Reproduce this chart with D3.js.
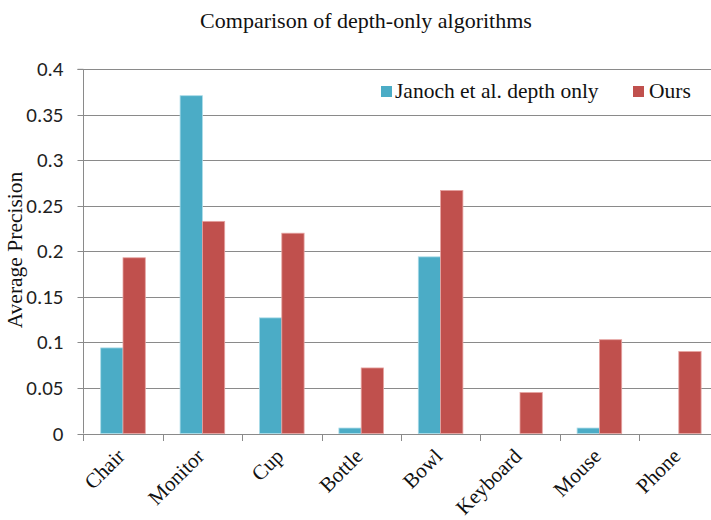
<!DOCTYPE html>
<html>
<head>
<meta charset="utf-8">
<script src="https://cdn.jsdelivr.net/npm/d3@7"></script>
<style>
  html, body { margin: 0; padding: 0; background: #fff; }
  svg { display: block; }
</style>
</head>
<body>
<svg id="chart" width="711" height="520"></svg>
<script>
const categories = ["Chair", "Monitor", "Cup", "Bottle", "Bowl", "Keyboard", "Mouse", "Phone"];
const seriesNames = ["Janoch et al. depth only", "Ours"];
const janochValues = [0.094, 0.371, 0.127, 0.006, 0.194, 0, 0.006, 0];
const oursValues = [0.193, 0.233, 0.220, 0.072, 0.267, 0.045, 0.103, 0.090];
const yTickValues = [0, 0.05, 0.1, 0.15, 0.2, 0.25, 0.3, 0.35, 0.4];
const yTickLabels = ["0", "0.05", "0.1", "0.15", "0.2", "0.25", "0.3", "0.35", "0.4"];
const colors = ["#4BACC6", "#C0504D"];
const strokeColors = ["#a9dbe8", "#e6a3a1"];

const svg = d3.select("#chart");
const serif = "'Liberation Serif', 'Times New Roman', serif";
const sans = "Carlito, Lato, 'Liberation Sans', sans-serif";

const left = 83.3, bandW = 79.4;
const x = d3.scaleBand().domain(categories).range([left, left + bandW * categories.length]).padding(0);
const xInner = d3.scaleBand().domain(seriesNames).range([17.4, bandW - 17.4]).padding(0);
const y = d3.scaleLinear().domain([0, 0.4]).range([433.5, 69.3]);

// gridlines
svg.append("g").selectAll("line").data(yTickValues).join("line")
  .attr("x1", left).attr("x2", 711)
  .attr("y1", d => Math.round(y(d)) + 0.5).attr("y2", d => Math.round(y(d)) + 0.5)
  .attr("stroke", "#8a8a8a").attr("stroke-width", 1);

// y axis
const yAxis = d3.axisLeft(y).tickValues(yTickValues)
  .tickFormat((d, i) => yTickLabels[i]).tickSize(6).tickPadding(14);
const gy = svg.append("g").attr("transform", `translate(${Math.round(left) + 0.5},0)`).call(yAxis);
gy.select(".domain").attr("stroke", "#8a8a8a").attr("d", `M-6,${y(0.4)}H0V${y(0)}`);
gy.selectAll(".tick line").attr("stroke", "#8a8a8a");
gy.selectAll(".tick text").attr("fill", "#1f1f1f").style("font-family", sans).style("font-size", "21px");
gy.selectAll(".tick").attr("transform", d => `translate(0,${Math.round(y(d)) + 0.5})`);

// x axis ticks at category boundaries
const boundaries = categories.map(c => x(c)).concat([x(categories[categories.length - 1]) + bandW]);
svg.append("g").selectAll("line").data(boundaries).join("line")
  .attr("x1", d => Math.round(d) + 0.5).attr("x2", d => Math.round(d) + 0.5)
  .attr("y1", Math.round(y(0))).attr("y2", Math.round(y(0)) + 7)
  .attr("stroke", "#8a8a8a");

// bars
const data = categories.map((c, i) => ({ cat: c, vals: [janochValues[i], oursValues[i]] }));
const groups = svg.append("g").selectAll("g").data(data).join("g")
  .attr("transform", d => `translate(${x(d.cat)},0)`);
groups.selectAll("rect").data(d => d.vals.map((v, j) => ({ v, j }))).join("rect")
  .filter(d => d.v > 0)
  .attr("x", d => xInner(seriesNames[d.j]))
  .attr("width", xInner.bandwidth())
  .attr("y", d => y(d.v))
  .attr("height", d => y(0) - y(d.v))
  .attr("fill", d => colors[d.j])
  .attr("stroke", d => strokeColors[d.j])
  .attr("stroke-width", 0.8);

// category labels
svg.append("g").selectAll("text").data(categories).join("text")
  .attr("transform", c => `translate(${x(c) + bandW / 2 + 3},${y(0) + 24}) rotate(-45)`)
  .attr("text-anchor", "end")
  .style("font-family", serif).style("font-size", "21px").attr("fill", "#111")
  .text(c => c);

// title
svg.append("text").attr("x", 366).attr("y", 28).attr("text-anchor", "middle")
  .style("font-family", serif).style("font-size", "22px").attr("fill", "#111")
  .text("Comparison of depth-only algorithms");

// y axis title
svg.append("text").attr("transform", "translate(22,250) rotate(-90)").attr("text-anchor", "middle")
  .style("font-family", serif).style("font-size", "21.5px").attr("fill", "#111")
  .text("Average Precision");

// legend
const legendPos = [{ sx: 381, tx: 395 }, { sx: 633, tx: 649 }];
const lg = svg.append("g").selectAll("g").data(seriesNames).join("g");
lg.append("rect").attr("x", (d, i) => legendPos[i].sx).attr("y", 86).attr("width", 11).attr("height", 11)
  .attr("fill", (d, i) => colors[i]);
lg.append("text").attr("x", (d, i) => legendPos[i].tx).attr("y", 98)
  .style("font-family", serif).style("font-size", "21.5px").attr("fill", "#111")
  .text(d => d);
</script>
</body>
</html>
